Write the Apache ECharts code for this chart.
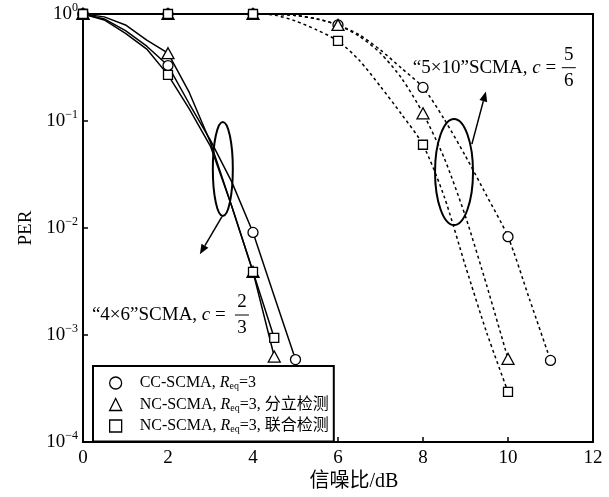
<!DOCTYPE html>
<html><head><meta charset="utf-8">
<script src="https://cdn.jsdelivr.net/npm/echarts@6/dist/echarts.min.js"></script>
<style>html,body{margin:0;padding:0;background:#fff}#c{width:609px;height:497px}</style>
</head><body><div id="c"></div>
<script>
// ---- data ----
const snrSolidCC = [0, 0.5, 1, 1.5, 2, 2.5, 3, 3.5, 4, 4.5, 5];
const perSolidCC = [1, 0.9, 0.7, 0.5, 0.33, 0.145, 0.066, 0.027, 0.0091, 0.0023, 0.00059];
const snrSolidNC = [0, 0.5, 1, 1.5, 2, 2.5, 3, 3.5, 4, 4.5];
const perSolidSep = [1, 0.94, 0.79, 0.57, 0.43, 0.185, 0.063, 0.016, 0.0039, 0.00063];
const perSolidJoint = [1, 0.88, 0.66, 0.47, 0.27, 0.13, 0.058, 0.016, 0.0039, 0.00094];

const snrDashCC = [0, 2, 4, 4.5, 5, 5.5, 6, 6.5, 7, 7.5, 8, 8.5, 9, 9.5, 10, 10.5, 11];
const perDashCC = [1, 1, 1, 0.995, 0.97, 0.9, 0.79, 0.64, 0.46, 0.31, 0.206, 0.104, 0.047, 0.02, 0.0083, 0.0022, 0.00058];
const snrDashNC = [0, 2, 4, 4.5, 5, 5.5, 6, 6.5, 7, 7.5, 8, 8.5, 9, 9.5, 10];
const perDashSep = [1, 1, 1, 0.995, 0.97, 0.9, 0.79, 0.62, 0.43, 0.25, 0.118, 0.045, 0.0128, 0.0029, 0.0006];
const perDashJoint = [1, 1, 1, 0.98, 0.86, 0.71, 0.56, 0.37, 0.21, 0.115, 0.06, 0.0196, 0.0044, 0.00105, 0.000295];

const markSolidCC = [0, 2, 4, 5];
const markSolidNC = [0, 2, 4, 4.5];
const markDash = [0, 2, 4, 6, 8, 10, 11];

const seriesNames = ['CC', 'SEP', 'JOINT'];
const legendTexts = {
  CC: '{p|CC-SCMA, }{i|R}{s|eq}{n|=3}',
  SEP: '{p|NC-SCMA, }{i|R}{s|eq}{n|=3, 分立检测}',
  JOINT: '{p|NC-SCMA, }{i|R}{s|eq}{n|=3, 联合检测}'
};
const symbols = { CC: 'circle', SEP: 'triangle', JOINT: 'rect' };
const symSizes = { CC: 10, SEP: [12, 11], JOINT: 9 };

const FONT = "'Liberation Serif','Times New Roman','Noto Sans CJK SC',serif";

function build(xs, ys, marks) {
  return xs.map((x, i) => {
    const it = { value: [x, ys[i]] };
    if (marks.indexOf(x) < 0) it.symbol = 'none';
    return it;
  });
}
function mkSeries(name, xs, ys, marks, dashed) {
  return {
    name: name, type: 'line', smooth: dashed ? 0.25 : false,
    symbol: symbols[name], symbolSize: symSizes[name],
    showAllSymbol: true,
    itemStyle: { color: '#fff', borderColor: '#000', borderWidth: 1.3 },
    lineStyle: { color: '#000', width: 1.5, type: dashed ? [3, 3] : 'solid' },
    data: build(xs, ys, marks), z: 3, animation: false
  };
}

const chart = echarts.init(document.getElementById('c'), null, { renderer: 'canvas' });
const supMap = { '0': '0', '-1': '−1', '-2': '−2', '-3': '−3', '-4': '−4' };
chart.setOption({
  animation: false,
  backgroundColor: '#fff',
  grid: { left: 83, right: 16, top: 14, bottom: 52, show: true, borderColor: '#000', borderWidth: 2, backgroundColor: 'transparent' },
  xAxis: {
    type: 'value', min: 0, max: 12, interval: 2,
    name: '信噪比/dB', nameLocation: 'middle', nameGap: 29,
    nameTextStyle: { fontFamily: FONT, fontSize: 20, color: '#000', padding: [0, 0, 0, 32] },
    axisLine: { show: true, lineStyle: { color: '#000', width: 2 } },
    axisTick: { inside: true, length: 5, lineStyle: { color: '#000', width: 1.5 } },
    axisLabel: { fontFamily: FONT, fontSize: 19, color: '#000', margin: 6 },
    splitLine: { show: false }
  },
  yAxis: {
    type: 'log', logBase: 10, min: 1e-4, max: 1,
    name: 'PER', nameLocation: 'middle', nameGap: 47,
    nameTextStyle: { fontFamily: FONT, fontSize: 19, color: '#000' },
    axisLine: { show: true, lineStyle: { color: '#000', width: 2 } },
    axisTick: { inside: true, length: 5, lineStyle: { color: '#000', width: 1.5 } },
    axisLabel: {
      margin: 5,
      formatter: v => { const e = Math.round(Math.log10(v)); return '{b|10}{s|' + supMap[String(e)] + '}'; },
      rich: {
        b: { fontFamily: FONT, fontSize: 19, color: '#000' },
        s: { fontFamily: FONT, fontSize: 12, color: '#000', padding: [0, 0, 12, 0] }
      }
    },
    splitLine: { show: false }, minorTick: { show: false }
  },
  legend: {
    orient: 'vertical', left: 93, top: 366,
    padding: [9, 5, 7, 16], itemGap: 5, itemWidth: 12, itemHeight: 12,
    borderColor: '#000', borderWidth: 2, backgroundColor: '#fff',
    data: seriesNames.map(n => ({ name: n, icon: symbols[n], itemStyle: { color: '#fff', borderColor: '#000', borderWidth: 1.3 } })),
    formatter: n => legendTexts[n],
    selectedMode: false,
    textStyle: {
      rich: {
        p: { fontFamily: FONT, fontSize: 16, color: '#000', padding: [0, 0, 0, 13] },
        n: { fontFamily: FONT, fontSize: 16, color: '#000' },
        i: { fontFamily: FONT, fontSize: 16, fontStyle: 'italic', color: '#000' },
        s: { fontFamily: FONT, fontSize: 10, color: '#000', padding: [7, 0, 0, 0] }
      }
    }
  },
  series: [
    mkSeries('CC', snrSolidCC, perSolidCC, markSolidCC, false),
    mkSeries('SEP', snrSolidNC, perSolidSep, markSolidNC, false),
    mkSeries('JOINT', snrSolidNC, perSolidJoint, markSolidNC, false),
    mkSeries('CC', snrDashCC, perDashCC, markDash, true),
    mkSeries('SEP', snrDashNC, perDashSep, markDash, true),
    mkSeries('JOINT', snrDashNC, perDashJoint, markDash, true)
  ]
});

// ---- annotations (anchored in data coordinates) ----
const P = (x, y) => chart.convertToPixel({ gridIndex: 0 }, [x, y]);
function arrow(from, to) {
  const a = P(from[0], from[1]), b = P(to[0], to[1]);
  const ang = Math.atan2(b[1] - a[1], b[0] - a[0]);
  const L = 10, W = 4;
  const bx = b[0] - L * Math.cos(ang), by = b[1] - L * Math.sin(ang);
  return [
    { type: 'line', shape: { x1: a[0], y1: a[1], x2: bx, y2: by }, style: { stroke: '#000', lineWidth: 1.5 }, z: 10 },
    { type: 'polygon', shape: { points: [[b[0], b[1]], [bx + W * Math.sin(ang), by - W * Math.cos(ang)], [bx - W * Math.sin(ang), by + W * Math.cos(ang)]] }, style: { fill: '#000' }, z: 10 }
  ];
}
function ellipse(c, rx, ry) {
  const p = P(c[0], c[1]);
  return { type: 'ellipse', shape: { cx: p[0], cy: p[1], rx: rx, ry: ry }, style: { fill: 'none', stroke: '#000', lineWidth: 2 }, z: 10 };
}
function label(anchor, pre, num, den, fracDx) {
  const p = P(anchor[0], anchor[1]);
  const fx = p[0] + fracDx;
  return [
    { type: 'text', x: p[0], y: p[1], style: { text: '{n|' + pre + '}{i|c}{n| = }', rich: { n: { fontFamily: FONT, fontSize: 19, fill: '#000' }, i: { fontFamily: FONT, fontSize: 19, fontStyle: 'italic', fill: '#000' } }, verticalAlign: 'middle', align: 'left' }, z: 10 },
    { type: 'text', x: fx, y: p[1] - 13, style: { text: num, fontFamily: FONT, fontSize: 19, fill: '#000', align: 'center', verticalAlign: 'middle' }, z: 10 },
    { type: 'line', shape: { x1: fx - 7, y1: p[1], x2: fx + 7, y2: p[1] }, style: { stroke: '#000', lineWidth: 1 }, z: 10 },
    { type: 'text', x: fx, y: p[1] + 13, style: { text: den, fontFamily: FONT, fontSize: 19, fill: '#000', align: 'center', verticalAlign: 'middle' }, z: 10 }
  ];
}
const els = [];
els.push(ellipse([3.29, 0.0356], 10, 47));
els.push(...arrow([3.27, 0.0128], [2.75, 0.00568]));
els.push(ellipse([8.73, 0.0334], 19, 53));
els.push(...arrow([9.15, 0.0608], [9.48, 0.189]));
els.push(...label([0.21, 0.00154], '“4×6”SCMA, ', '2', '3', 150));
els.push(...label([7.76, 0.315], '“5×10”SCMA, ', '5', '6', 156));
chart.setOption({ graphic: els });
</script></body></html>
